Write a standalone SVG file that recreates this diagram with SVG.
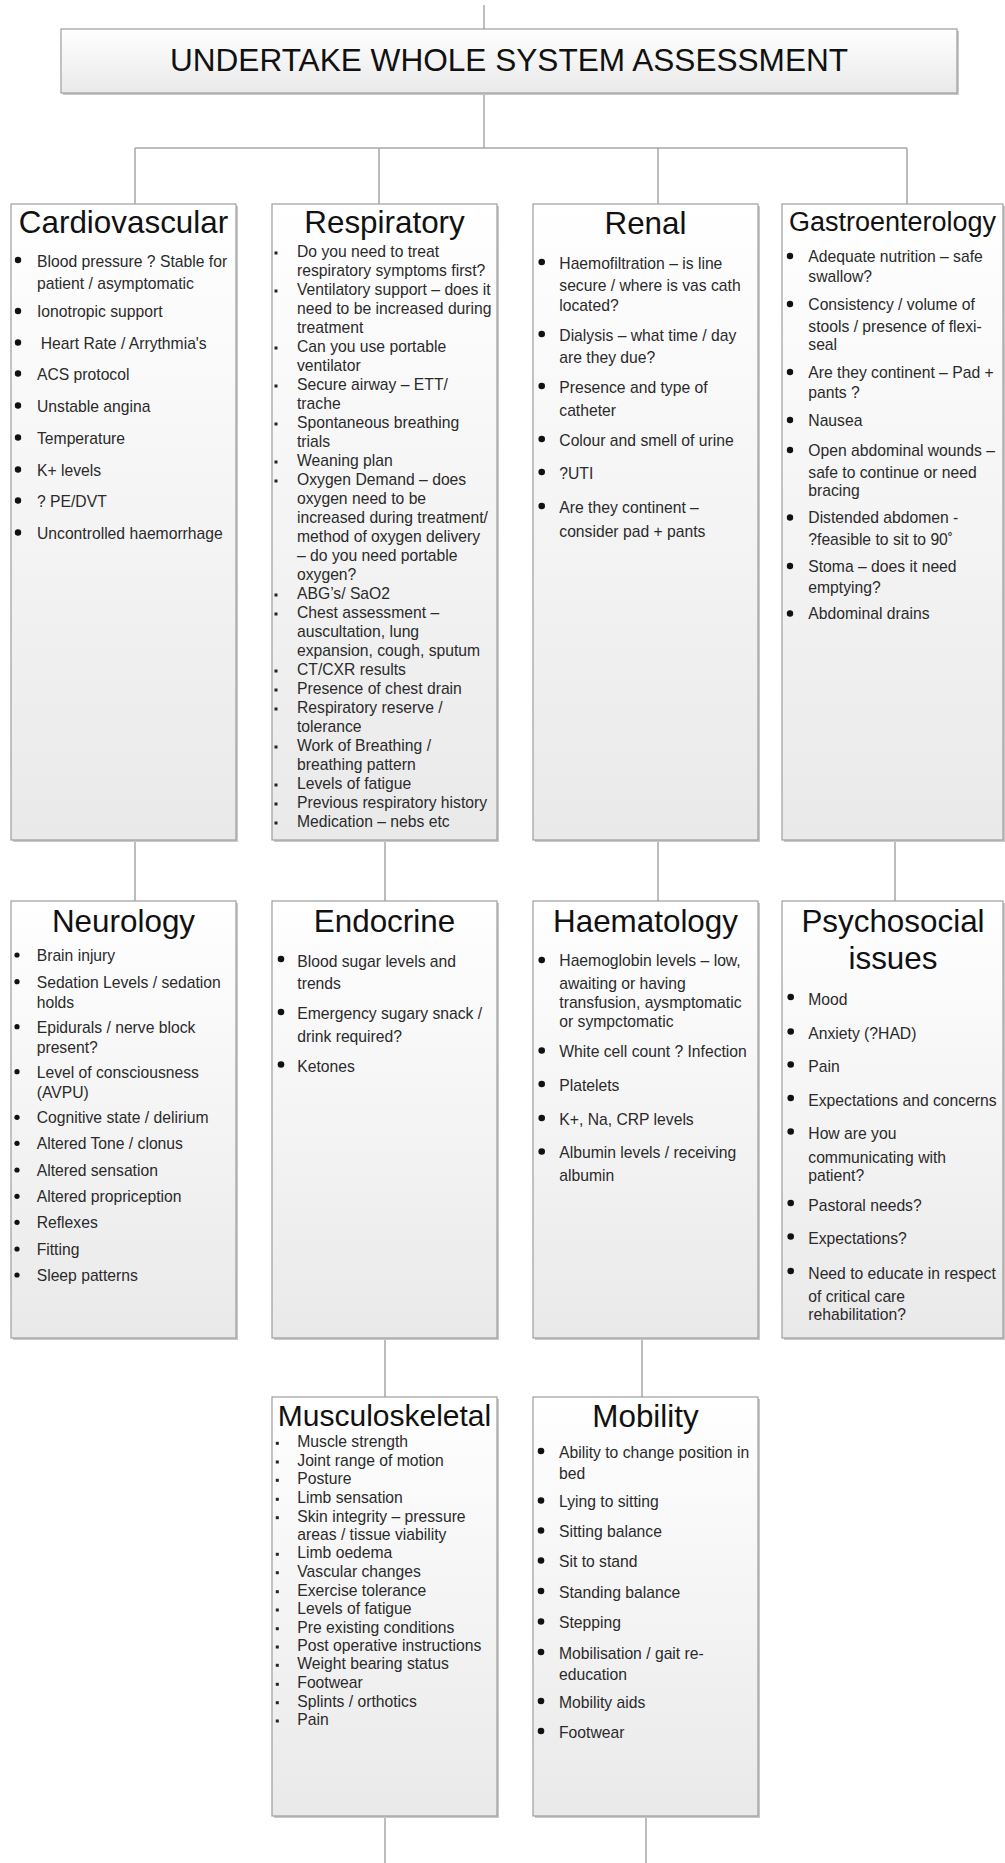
<svg xmlns="http://www.w3.org/2000/svg" width="1005" height="1863" viewBox="0 0 1005 1863">
<defs>
<linearGradient id="g" x1="0" y1="0" x2="0" y2="1">
<stop offset="0" stop-color="#ffffff"/>
<stop offset="1" stop-color="#e9e9e9"/>
</linearGradient>
<style>
.box{fill:url(#g);stroke:#9e9e9e;stroke-width:1.2}
.sh{fill:#c8c8c8}
.t{font-family:"Liberation Sans",Arial,sans-serif;font-size:31.4px;fill:#111;text-anchor:middle}
.b{font-family:"Liberation Sans",Arial,sans-serif;font-size:15.7px;fill:#2a2a2a}
.d{fill:#111}
.sq{fill:#222}
.c{stroke:#a8a8a8;stroke-width:1.5;fill:none}
</style>
</defs>
<rect width="1005" height="1863" fill="#ffffff"/>

<g id="connectors">
<path class="c" d="M484 5V29M484 93V148M135 148H907M135 148V204M379 148V204M658 148V204M907 148V204"/>
<path class="c" d="M135 840V901M385 840V901M658 840V901M895 840V901"/>
<path class="c" d="M385 1338V1397M642 1338V1397"/>
<path class="c" d="M385 1816V1863M646 1816V1863"/>
</g>

<g id="header">
<rect class="sh" x="63" y="31" width="896" height="64"/>
<rect class="box" x="61" y="29" width="896" height="64"/>
<text class="t" x="509" y="70.7" style="font-size:31.6px">UNDERTAKE WHOLE SYSTEM ASSESSMENT</text>
</g>

<g id="cardiovascular">
<rect class="sh" x="13" y="206" width="225" height="636"/>
<rect class="box" x="11" y="204" width="225" height="636"/>
<text class="t" x="123.5" y="233">Cardiovascular</text>
<circle class="d" cx="18" cy="260" r="3.2"/>
<circle class="d" cx="18" cy="311" r="3.2"/>
<circle class="d" cx="18" cy="342.5" r="3.2"/>
<circle class="d" cx="18" cy="373.5" r="3.2"/>
<circle class="d" cx="18" cy="405.5" r="3.2"/>
<circle class="d" cx="18" cy="437.5" r="3.2"/>
<circle class="d" cx="18" cy="469.5" r="3.2"/>
<circle class="d" cx="18" cy="500.5" r="3.2"/>
<circle class="d" cx="18" cy="532.5" r="3.2"/>
<text class="b" x="37" y="266.7">Blood pressure ? Stable for</text>
<text class="b" x="37" y="289.3">patient / asymptomatic</text>
<text class="b" x="37" y="317.3">Ionotropic support</text>
<text class="b" x="40.7" y="349">Heart Rate / Arrythmia's</text>
<text class="b" x="37" y="380">ACS protocol</text>
<text class="b" x="37" y="412">Unstable angina</text>
<text class="b" x="37" y="444">Temperature</text>
<text class="b" x="37" y="476">K+ levels</text>
<text class="b" x="37" y="507">? PE/DVT</text>
<text class="b" x="37" y="539">Uncontrolled haemorrhage</text>
</g>

<g id="respiratory">
<rect class="sh" x="274" y="206" width="225" height="636"/>
<rect class="box" x="272" y="204" width="225" height="636"/>
<text class="t" x="384.5" y="233">Respiratory</text>
<rect class="sq" x="274.5" y="251.5" width="3" height="3"/>
<rect class="sq" x="274.5" y="289.5" width="3" height="3"/>
<rect class="sq" x="274.5" y="346.5" width="3" height="3"/>
<rect class="sq" x="274.5" y="384.5" width="3" height="3"/>
<rect class="sq" x="274.5" y="422.5" width="3" height="3"/>
<rect class="sq" x="274.5" y="460.5" width="3" height="3"/>
<rect class="sq" x="274.5" y="479.5" width="3" height="3"/>
<rect class="sq" x="274.5" y="593.5" width="3" height="3"/>
<rect class="sq" x="274.5" y="612.5" width="3" height="3"/>
<rect class="sq" x="274.5" y="669.5" width="3" height="3"/>
<rect class="sq" x="274.5" y="688.5" width="3" height="3"/>
<rect class="sq" x="274.5" y="707.5" width="3" height="3"/>
<rect class="sq" x="274.5" y="745.5" width="3" height="3"/>
<rect class="sq" x="274.5" y="783.5" width="3" height="3"/>
<rect class="sq" x="274.5" y="802.5" width="3" height="3"/>
<rect class="sq" x="274.5" y="821.5" width="3" height="3"/>
<text class="b" x="297" y="257.3">Do you need to treat</text>
<text class="b" x="297" y="276.3">respiratory symptoms first?</text>
<text class="b" x="297" y="295.3">Ventilatory support – does it</text>
<text class="b" x="297" y="314.3">need to be increased during</text>
<text class="b" x="297" y="333.3">treatment</text>
<text class="b" x="297" y="352.3">Can you use portable</text>
<text class="b" x="297" y="371.3">ventilator</text>
<text class="b" x="297" y="390.3">Secure airway – ETT/</text>
<text class="b" x="297" y="409.3">trache</text>
<text class="b" x="297" y="428.3">Spontaneous breathing</text>
<text class="b" x="297" y="447.3">trials</text>
<text class="b" x="297" y="466.3">Weaning plan</text>
<text class="b" x="297" y="485.3">Oxygen Demand – does</text>
<text class="b" x="297" y="504.3">oxygen need to be</text>
<text class="b" x="297" y="523.3">increased during treatment/</text>
<text class="b" x="297" y="542.3">method of oxygen delivery</text>
<text class="b" x="297" y="561.3">– do you need portable</text>
<text class="b" x="297" y="580.3">oxygen?</text>
<text class="b" x="297" y="599.3">ABG’s/ SaO2</text>
<text class="b" x="297" y="618.3">Chest assessment –</text>
<text class="b" x="297" y="637.3">auscultation, lung</text>
<text class="b" x="297" y="656.3">expansion, cough, sputum</text>
<text class="b" x="297" y="675.3">CT/CXR results</text>
<text class="b" x="297" y="694.3">Presence of chest drain</text>
<text class="b" x="297" y="713.3">Respiratory reserve /</text>
<text class="b" x="297" y="732.3">tolerance</text>
<text class="b" x="297" y="751.3">Work of Breathing /</text>
<text class="b" x="297" y="770.3">breathing pattern</text>
<text class="b" x="297" y="789.3">Levels of fatigue</text>
<text class="b" x="297" y="808.3">Previous respiratory history</text>
<text class="b" x="297" y="827.3">Medication – nebs etc</text>
</g>

<g id="renal">
<rect class="sh" x="535" y="206" width="225" height="636"/>
<rect class="box" x="533" y="204" width="225" height="636"/>
<text class="t" x="645.5" y="234">Renal</text>
<circle class="d" cx="541.7" cy="262" r="3.3"/>
<circle class="d" cx="541.7" cy="334" r="3.3"/>
<circle class="d" cx="541.7" cy="386" r="3.3"/>
<circle class="d" cx="541.7" cy="439" r="3.3"/>
<circle class="d" cx="541.7" cy="472" r="3.3"/>
<circle class="d" cx="541.7" cy="506" r="3.3"/>
<text class="b" x="559.3" y="269">Haemofiltration – is line</text>
<text class="b" x="559.3" y="291">secure / where is vas cath</text>
<text class="b" x="559.3" y="311">located?</text>
<text class="b" x="559.3" y="341">Dialysis – what time / day</text>
<text class="b" x="559.3" y="363.3">are they due?</text>
<text class="b" x="559.3" y="393.3">Presence and type of</text>
<text class="b" x="559.3" y="416">catheter</text>
<text class="b" x="559.3" y="445.7">Colour and smell of urine</text>
<text class="b" x="559.3" y="479">?UTI</text>
<text class="b" x="559.3" y="513.3">Are they continent –</text>
<text class="b" x="559.3" y="536.7">consider pad + pants</text>
</g>

<g id="gastroenterology">
<rect class="sh" x="784" y="206" width="221" height="636"/>
<rect class="box" x="782" y="204" width="221" height="636"/>
<text class="t" x="892.5" y="231" style="font-size:27px">Gastroenterology</text>
<circle class="d" cx="790" cy="256" r="3.2"/>
<circle class="d" cx="790" cy="304" r="3.2"/>
<circle class="d" cx="790" cy="372" r="3.2"/>
<circle class="d" cx="790" cy="420" r="3.2"/>
<circle class="d" cx="790" cy="450" r="3.2"/>
<circle class="d" cx="790" cy="517.5" r="3.2"/>
<circle class="d" cx="790" cy="566" r="3.2"/>
<circle class="d" cx="790" cy="613.5" r="3.2"/>
<text class="b" x="808.3" y="261.7">Adequate nutrition – safe</text>
<text class="b" x="808.3" y="282.3">swallow?</text>
<text class="b" x="808.3" y="310">Consistency  / volume of</text>
<text class="b" x="808.3" y="331.7">stools / presence of flexi-</text>
<text class="b" x="808.3" y="350">seal</text>
<text class="b" x="808.3" y="377.7">Are they continent – Pad +</text>
<text class="b" x="808.3" y="398.3">pants ?</text>
<text class="b" x="808.3" y="426">Nausea</text>
<text class="b" x="808.3" y="456">Open abdominal wounds –</text>
<text class="b" x="808.3" y="477.7">safe to continue or need</text>
<text class="b" x="808.3" y="495.5">bracing</text>
<text class="b" x="808.3" y="523.3">Distended abdomen -</text>
<text class="b" x="808.3" y="544.5">?feasible to sit to 90˚</text>
<text class="b" x="808.3" y="571.7">Stoma – does it need</text>
<text class="b" x="808.3" y="592.7">emptying?</text>
<text class="b" x="808.3" y="619.3">Abdominal drains</text>
</g>

<g id="neurology">
<rect class="sh" x="13" y="903" width="225" height="437"/>
<rect class="box" x="11" y="901" width="225" height="437"/>
<text class="t" x="123.5" y="932">Neurology</text>
<circle class="d" cx="17" cy="955" r="2.6"/>
<circle class="d" cx="17" cy="981.7" r="2.6"/>
<circle class="d" cx="17" cy="1026.7" r="2.6"/>
<circle class="d" cx="17" cy="1071.7" r="2.6"/>
<circle class="d" cx="17" cy="1117.3" r="2.6"/>
<circle class="d" cx="17" cy="1143.3" r="2.6"/>
<circle class="d" cx="17" cy="1170" r="2.6"/>
<circle class="d" cx="17" cy="1196.3" r="2.6"/>
<circle class="d" cx="17" cy="1222.3" r="2.6"/>
<circle class="d" cx="17" cy="1249" r="2.6"/>
<circle class="d" cx="17" cy="1275" r="2.6"/>
<text class="b" x="36.7" y="961">Brain injury</text>
<text class="b" x="36.7" y="987.7">Sedation Levels / sedation</text>
<text class="b" x="36.7" y="1007.7">holds</text>
<text class="b" x="36.7" y="1032.7">Epidurals / nerve block</text>
<text class="b" x="36.7" y="1052.7">present?</text>
<text class="b" x="36.7" y="1077.7">Level of consciousness</text>
<text class="b" x="36.7" y="1098.3">(AVPU)</text>
<text class="b" x="36.7" y="1123.3">Cognitive state / delirium</text>
<text class="b" x="36.7" y="1149.3">Altered Tone / clonus</text>
<text class="b" x="36.7" y="1176">Altered sensation</text>
<text class="b" x="36.7" y="1202.3">Altered propriception</text>
<text class="b" x="36.7" y="1228.3">Reflexes</text>
<text class="b" x="36.7" y="1255">Fitting</text>
<text class="b" x="36.7" y="1281">Sleep patterns</text>
</g>

<g id="endocrine">
<rect class="sh" x="274" y="903" width="225" height="437"/>
<rect class="box" x="272" y="901" width="225" height="437"/>
<text class="t" x="384.5" y="932">Endocrine</text>
<circle class="d" cx="281" cy="959" r="3.3"/>
<circle class="d" cx="281" cy="1012" r="3.3"/>
<circle class="d" cx="281" cy="1064.5" r="3.3"/>
<text class="b" x="297.3" y="966.7">Blood sugar levels and</text>
<text class="b" x="297.3" y="989">trends</text>
<text class="b" x="297.3" y="1019.3">Emergency sugary snack /</text>
<text class="b" x="297.3" y="1041.7">drink required?</text>
<text class="b" x="297.3" y="1071.7">Ketones</text>
</g>

<g id="haematology">
<rect class="sh" x="535" y="903" width="225" height="437"/>
<rect class="box" x="533" y="901" width="225" height="437"/>
<text class="t" x="645.5" y="932">Haematology</text>
<circle class="d" cx="541.7" cy="960" r="3.3"/>
<circle class="d" cx="541.7" cy="1050.5" r="3.3"/>
<circle class="d" cx="541.7" cy="1084" r="3.3"/>
<circle class="d" cx="541.7" cy="1118" r="3.3"/>
<circle class="d" cx="541.7" cy="1151.5" r="3.3"/>
<text class="b" x="559.3" y="966">Haemoglobin levels – low,</text>
<text class="b" x="559.3" y="989">awaiting or having</text>
<text class="b" x="559.3" y="1007.7">transfusion, aysmptomatic</text>
<text class="b" x="559.3" y="1026.7">or sympctomatic</text>
<text class="b" x="559.3" y="1057.3">White cell count ? Infection</text>
<text class="b" x="559.3" y="1090.7">Platelets</text>
<text class="b" x="559.3" y="1125">K+, Na, CRP levels</text>
<text class="b" x="559.3" y="1158.3">Albumin levels / receiving</text>
<text class="b" x="559.3" y="1180.7">albumin</text>
</g>

<g id="psychosocial">
<rect class="sh" x="784" y="903" width="221" height="437"/>
<rect class="box" x="782" y="901" width="221" height="437"/>
<text class="t" x="893" y="932">Psychosocial</text>
<text class="t" x="893" y="969.3">issues</text>
<circle class="d" cx="790.7" cy="997" r="3.3"/>
<circle class="d" cx="790.7" cy="1031.5" r="3.3"/>
<circle class="d" cx="790.7" cy="1064.5" r="3.3"/>
<circle class="d" cx="790.7" cy="1098" r="3.3"/>
<circle class="d" cx="790.7" cy="1131.5" r="3.3"/>
<circle class="d" cx="790.7" cy="1203" r="3.3"/>
<circle class="d" cx="790.7" cy="1236.5" r="3.3"/>
<circle class="d" cx="790.7" cy="1271" r="3.3"/>
<text class="b" x="808.3" y="1005">Mood</text>
<text class="b" x="808.3" y="1039.3">Anxiety (?HAD)</text>
<text class="b" x="808.3" y="1072.3">Pain</text>
<text class="b" x="808.3" y="1106">Expectations and concerns</text>
<text class="b" x="808.3" y="1139.3">How are you</text>
<text class="b" x="808.3" y="1162.7">communicating with</text>
<text class="b" x="808.3" y="1181">patient?</text>
<text class="b" x="808.3" y="1210.7">Pastoral needs?</text>
<text class="b" x="808.3" y="1244.3">Expectations?</text>
<text class="b" x="808.3" y="1279">Need to educate in respect</text>
<text class="b" x="808.3" y="1301.7">of critical care</text>
<text class="b" x="808.3" y="1320">rehabilitation?</text>
</g>

<g id="musculoskeletal">
<rect class="sh" x="274" y="1399" width="225" height="419"/>
<rect class="box" x="272" y="1397" width="225" height="419"/>
<text class="t" x="384.5" y="1426" style="font-size:30px">Musculoskeletal</text>
<rect class="sq" x="275.8" y="1441.8" width="3" height="3"/>
<rect class="sq" x="275.8" y="1460.5" width="3" height="3"/>
<rect class="sq" x="275.8" y="1478.8" width="3" height="3"/>
<rect class="sq" x="275.8" y="1497.8" width="3" height="3"/>
<rect class="sq" x="275.8" y="1516.2" width="3" height="3"/>
<rect class="sq" x="275.8" y="1552.8" width="3" height="3"/>
<rect class="sq" x="275.8" y="1571.2" width="3" height="3"/>
<rect class="sq" x="275.8" y="1590.2" width="3" height="3"/>
<rect class="sq" x="275.8" y="1608.5" width="3" height="3"/>
<rect class="sq" x="275.8" y="1627.2" width="3" height="3"/>
<rect class="sq" x="275.8" y="1645.5" width="3" height="3"/>
<rect class="sq" x="275.8" y="1663.8" width="3" height="3"/>
<rect class="sq" x="275.8" y="1682.8" width="3" height="3"/>
<rect class="sq" x="275.8" y="1701.2" width="3" height="3"/>
<rect class="sq" x="275.8" y="1719.5" width="3" height="3"/>
<text class="b" x="297.3" y="1447.3">Muscle strength</text>
<text class="b" x="297.3" y="1466">Joint range of motion</text>
<text class="b" x="297.3" y="1484.3">Posture</text>
<text class="b" x="297.3" y="1503.3">Limb sensation</text>
<text class="b" x="297.3" y="1521.7">Skin integrity – pressure</text>
<text class="b" x="297.3" y="1540">areas / tissue viability</text>
<text class="b" x="297.3" y="1558.3">Limb oedema</text>
<text class="b" x="297.3" y="1576.7">Vascular changes</text>
<text class="b" x="297.3" y="1595.7">Exercise tolerance</text>
<text class="b" x="297.3" y="1614">Levels of fatigue</text>
<text class="b" x="297.3" y="1632.7">Pre existing conditions</text>
<text class="b" x="297.3" y="1651">Post operative instructions</text>
<text class="b" x="297.3" y="1669.3">Weight bearing status</text>
<text class="b" x="297.3" y="1688.3">Footwear</text>
<text class="b" x="297.3" y="1706.7">Splints / orthotics</text>
<text class="b" x="297.3" y="1725">Pain</text>
</g>

<g id="mobility">
<rect class="sh" x="535" y="1399" width="225" height="419"/>
<rect class="box" x="533" y="1397" width="225" height="419"/>
<text class="t" x="645.5" y="1426.5">Mobility</text>
<circle class="d" cx="541" cy="1451" r="3.3"/>
<circle class="d" cx="541" cy="1500.5" r="3.3"/>
<circle class="d" cx="541" cy="1530.5" r="3.3"/>
<circle class="d" cx="541" cy="1560.5" r="3.3"/>
<circle class="d" cx="541" cy="1591" r="3.3"/>
<circle class="d" cx="541" cy="1621.5" r="3.3"/>
<circle class="d" cx="541" cy="1652" r="3.3"/>
<circle class="d" cx="541" cy="1701" r="3.3"/>
<circle class="d" cx="541" cy="1731" r="3.3"/>
<text class="b" x="559" y="1457.7">Ability to change position in</text>
<text class="b" x="559" y="1479.3">bed</text>
<text class="b" x="559" y="1507.3">Lying to sitting</text>
<text class="b" x="559" y="1537.3">Sitting balance</text>
<text class="b" x="559" y="1567.3">Sit to stand</text>
<text class="b" x="559" y="1597.7">Standing balance</text>
<text class="b" x="559" y="1628.3">Stepping</text>
<text class="b" x="559" y="1659">Mobilisation / gait re-</text>
<text class="b" x="559" y="1680">education</text>
<text class="b" x="559" y="1707.7">Mobility aids</text>
<text class="b" x="559" y="1737.7">Footwear</text>
</g>
</svg>
